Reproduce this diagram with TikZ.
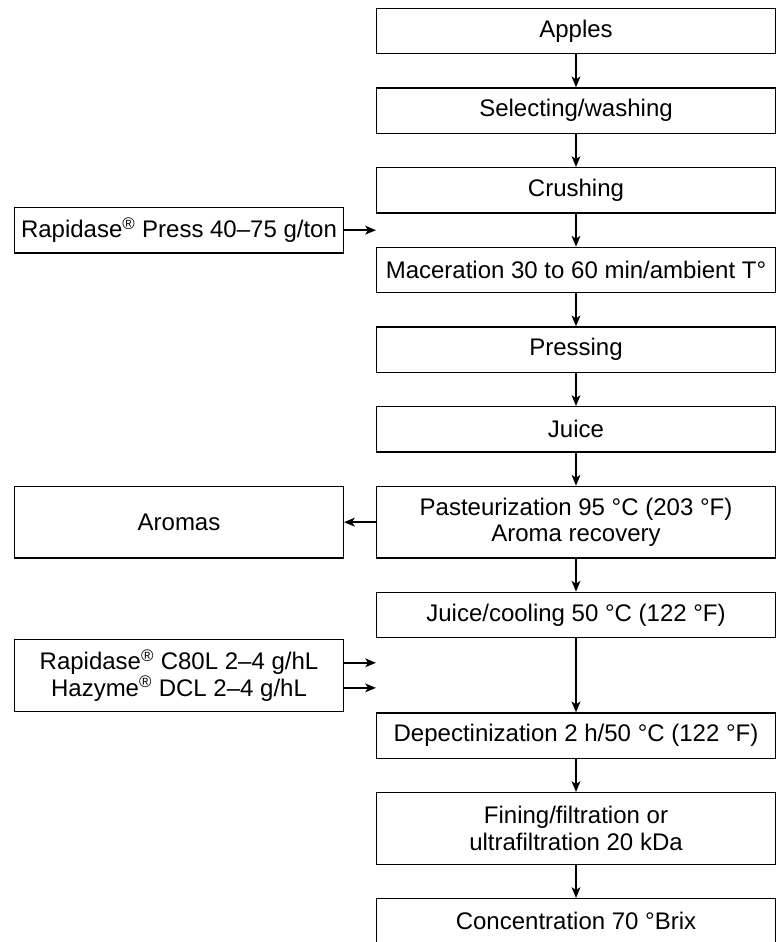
\documentclass[tikz,border=0pt]{standalone}
\usepackage{fontspec}
\setmainfont{Liberation Sans}
\usetikzlibrary{
	positioning,
	arrows.meta,
	calc
}
\tikzset{
	stepbox/.style={
		draw,
		line width=1pt,
		minimum width=299pt,
		minimum height=34pt,
		inner sep=2pt,
		align=center,
		font=\fontsize{18}{20}\selectfont
	},
	sidebox/.style={
		stepbox,
		minimum width=246.5pt
	},
	tallbox/.style={
		minimum height=53.75pt
	},
	flow/.style={
		-{Stealth[length=8pt,width=6.5pt,inset=2pt]},
		line width=1.5pt
	}
}

\begin{document}
\begin{tikzpicture}[x=0.75pt,y=-0.75pt,node distance=24.75pt]
	
	\useasboundingbox (0,0) rectangle (781,942);
	\clip (0,0) rectangle (781,942);
	
	% main line
	\node[stepbox] (apples) at (576,31) {Apples};
	\node[stepbox, below=of apples] (wash) {Selecting/washing};
	\node[stepbox, below=of wash] (crush) {Crushing};
	\node[stepbox, below=of crush] (mac) {Maceration 30 to 60 min/ambient T°};
	\node[stepbox, below=of mac] (press) {Pressing};
	\node[stepbox, below=of press] (juice) {Juice};
	\node[stepbox, tallbox, below=of juice] (past) {Pasteurization 95 °C (203 °F)\\Aroma recovery};
	\node[stepbox, below=of past] (cool) {Juice/cooling 50 °C (122 °F)};
	\node[stepbox, below=55.5pt of cool] (depec) {Depectinization 2 h/50 °C (122 °F)};
	\node[stepbox, tallbox, below=of depec] (fining) {Fining/filtration or\\ultrafiltration 20 kDa};
	\node[stepbox, below=of fining] (conc) {Concentration 70 °Brix};
	
	\foreach \a/\b in {apples/wash, wash/crush, crush/mac, mac/press, press/juice,
		juice/past, past/cool, cool/depec, depec/fining, fining/conc}
		\draw[flow] (\a) -- (\b);
	
	% side inputs and outputs
	\coordinate (gap1) at ($(crush.south west)!0.5!(mac.north west)$);
	\coordinate (gap2) at ($(cool.south west)!0.5!(depec.north west)$);
	
	\node[sidebox, left=24pt of gap1] (enzpress) {Rapidase\textsuperscript{®} Press 40--75 g/ton};
	\node[sidebox, tallbox, left=24pt of past] (aromas) {Aromas};
	\node[sidebox, tallbox, left=24pt of gap2] (enzdepec) {Rapidase\textsuperscript{®} C80L 2--4 g/hL\\Hazyme\textsuperscript{®} DCL 2--4 g/hL};
	
	\draw[flow] (enzpress) -- (gap1);
	\draw[flow] (past) -- (aromas);
	\draw[flow] ([yshift=9.4pt]enzdepec.east) -- ([yshift=9.4pt]gap2);
	\draw[flow] ([yshift=-9.4pt]enzdepec.east) -- ([yshift=-9.4pt]gap2);
	
\end{tikzpicture}
\end{document}
